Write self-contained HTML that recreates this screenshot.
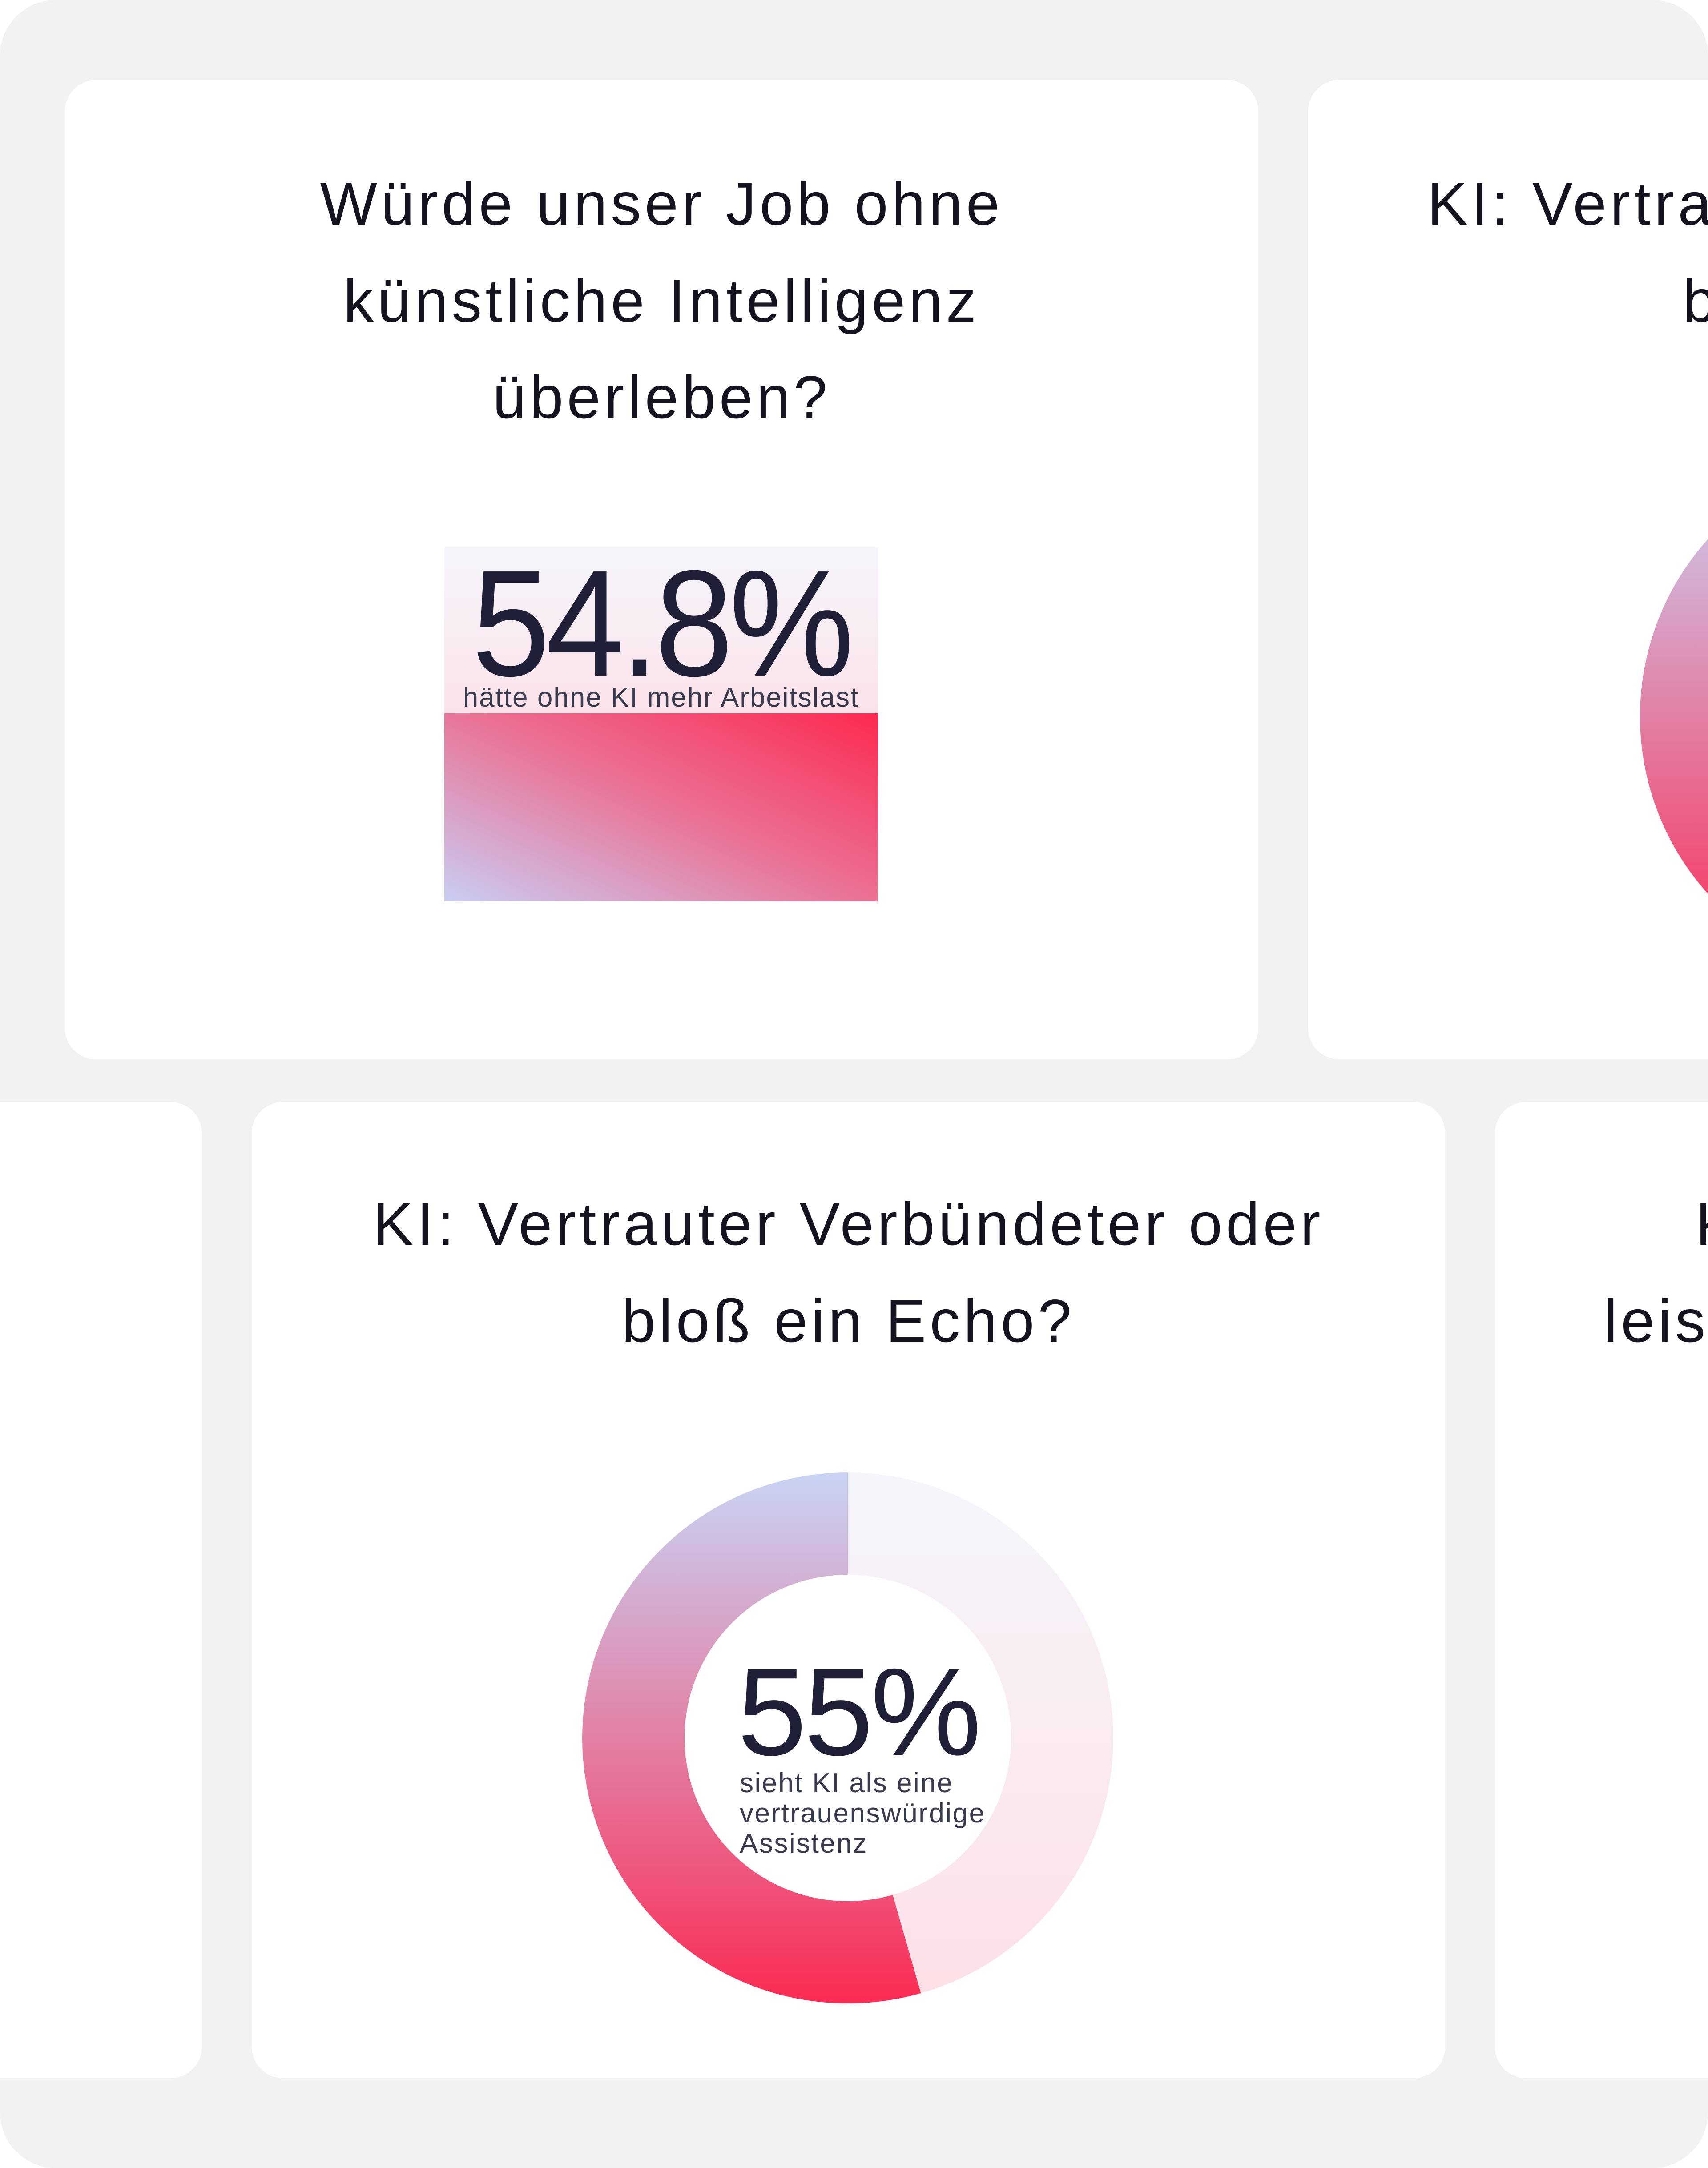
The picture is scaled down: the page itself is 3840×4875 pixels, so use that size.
<!DOCTYPE html>
<html><head><meta charset="utf-8"><style>
html,body{margin:0;padding:0;background:#fff;}
body{width:3840px;height:4875px;position:relative;overflow:hidden;font-family:"Liberation Sans",sans-serif;color:#1f2037;}
.wrap{position:absolute;left:0;top:0;width:3840px;height:4875px;overflow:hidden;}
.bg{position:absolute;left:0;top:0;width:3840px;height:4875px;background:#f2f2f2;border-radius:125px;}
.card{position:absolute;background:#fff;border-radius:70px;}
.t{position:absolute;white-space:nowrap;line-height:1;}
.c{text-align:center;}
.h{font-size:136px;letter-spacing:8px;color:#141420;}
</style></head><body><div class="wrap">
<div class="bg"></div>
<div class="card" style="left:146px;top:180px;width:2683px;height:2202px"></div>
<div class="card" style="left:2941px;top:180px;width:899px;height:2202px;border-radius:70px 0 0 70px"></div>
<div class="card" style="left:0px;top:2478px;width:454px;height:2195px;border-radius:0 70px 70px 0"></div>
<div class="card" style="left:566px;top:2478px;width:2683px;height:2195px"></div>
<div class="card" style="left:3361px;top:2478px;width:479px;height:2195px;border-radius:70px 0 0 70px"></div>

<!-- card 1 -->
<div class="t c h" style="left:146px;width:2683px;top:390px">Würde unser Job ohne</div>
<div class="t c h" style="left:146px;width:2683px;top:608px">künstliche Intelligenz</div>
<div class="t c h" style="left:146px;width:2683px;top:825px">überleben?</div>
<div style="position:absolute;left:999px;top:1231px;width:975px;height:373px;background:linear-gradient(180deg,#f5f5fb,#fbe2ea)"></div>
<div style="position:absolute;left:999px;top:1604px;width:975px;height:423px;background:linear-gradient(205deg,#fd2a52 0%,#e97396 50%,#c9cdf3 100%)"></div>
<div class="t c" style="left:986px;width:1000px;top:1232px;font-size:340px;transform:scaleX(0.93);letter-spacing:-10px">54.8%</div>
<div class="t c" style="left:936px;width:1100px;top:1538px;font-size:62px;letter-spacing:2px;color:#3a3a4e">hätte ohne KI mehr Arbeitslast</div>

<!-- card 2 top right -->
<div class="t h" style="left:3209px;top:390px">KI: Vertrauter Verbündeter oder</div>
<div class="t h" style="left:3783px;top:608px">bloß ein Echo?</div>
<svg style="position:absolute;left:3687px;top:1014px" width="1194" height="1194" viewBox="-597 -597 1194 1194">
<defs>
<linearGradient id="r2" gradientUnits="userSpaceOnUse" x1="0" y1="-597" x2="0" y2="597"><stop offset="0" stop-color="#c8d4f5"/><stop offset="1" stop-color="#fb2b54"/></linearGradient>
<linearGradient id="l2" gradientUnits="userSpaceOnUse" x1="0" y1="-597" x2="0" y2="597"><stop offset="0" stop-color="#f5f6fc"/><stop offset="1" stop-color="#fde0e6"/></linearGradient>
</defs>
<path d="M0,-597 A597,597 0 1 0 164.5,573.9 L101.2,352.8 A367,367 0 1 1 0,-367 Z" fill="url(#r2)"/>
<path d="M0,-597 A597,597 0 0 1 164.5,573.9 L101.2,352.8 A367,367 0 0 0 0,-367 Z" fill="url(#l2)"/>
</svg>

<!-- card bottom center -->
<div class="t c h" style="left:566px;width:2683px;top:2684px">KI: Vertrauter Verbündeter oder</div>
<div class="t c h" style="left:566px;width:2683px;top:2902px">bloß ein Echo?</div>
<svg style="position:absolute;left:1309px;top:3311px" width="1194" height="1194" viewBox="-597 -597 1194 1194">
<defs>
<linearGradient id="r1" gradientUnits="userSpaceOnUse" x1="0" y1="-597" x2="0" y2="597"><stop offset="0" stop-color="#c8d4f5"/><stop offset="1" stop-color="#fb2b54"/></linearGradient>
<linearGradient id="l1" gradientUnits="userSpaceOnUse" x1="0" y1="-597" x2="0" y2="597"><stop offset="0" stop-color="#f5f6fc"/><stop offset="1" stop-color="#fde0e6"/></linearGradient>
</defs>
<path d="M0,-597 A597,597 0 1 0 164.5,573.9 L101.2,352.8 A367,367 0 1 1 0,-367 Z" fill="url(#r1)"/>
<path d="M0,-597 A597,597 0 0 1 164.5,573.9 L101.2,352.8 A367,367 0 0 0 0,-367 Z" fill="url(#l1)"/>
</svg>
<div class="t" style="left:1658px;top:3710px;font-size:280px;letter-spacing:-6px">55%</div>
<div class="t" style="left:1663px;top:3979px;font-size:62px;letter-spacing:2.5px;color:#3a3a4e">sieht KI als eine</div>
<div class="t" style="left:1663px;top:4047px;font-size:62px;letter-spacing:2.5px;color:#3a3a4e">vertrauenswürdige</div>
<div class="t" style="left:1663px;top:4115px;font-size:62px;letter-spacing:2.5px;color:#3a3a4e">Assistenz</div>

<!-- card bottom right -->
<div class="t h" style="left:3812px;top:2684px">KI als Motor für die</div>
<div class="t h" style="left:3606px;top:2902px">leistungsfähige Arbeit?</div>
</div></body></html>
